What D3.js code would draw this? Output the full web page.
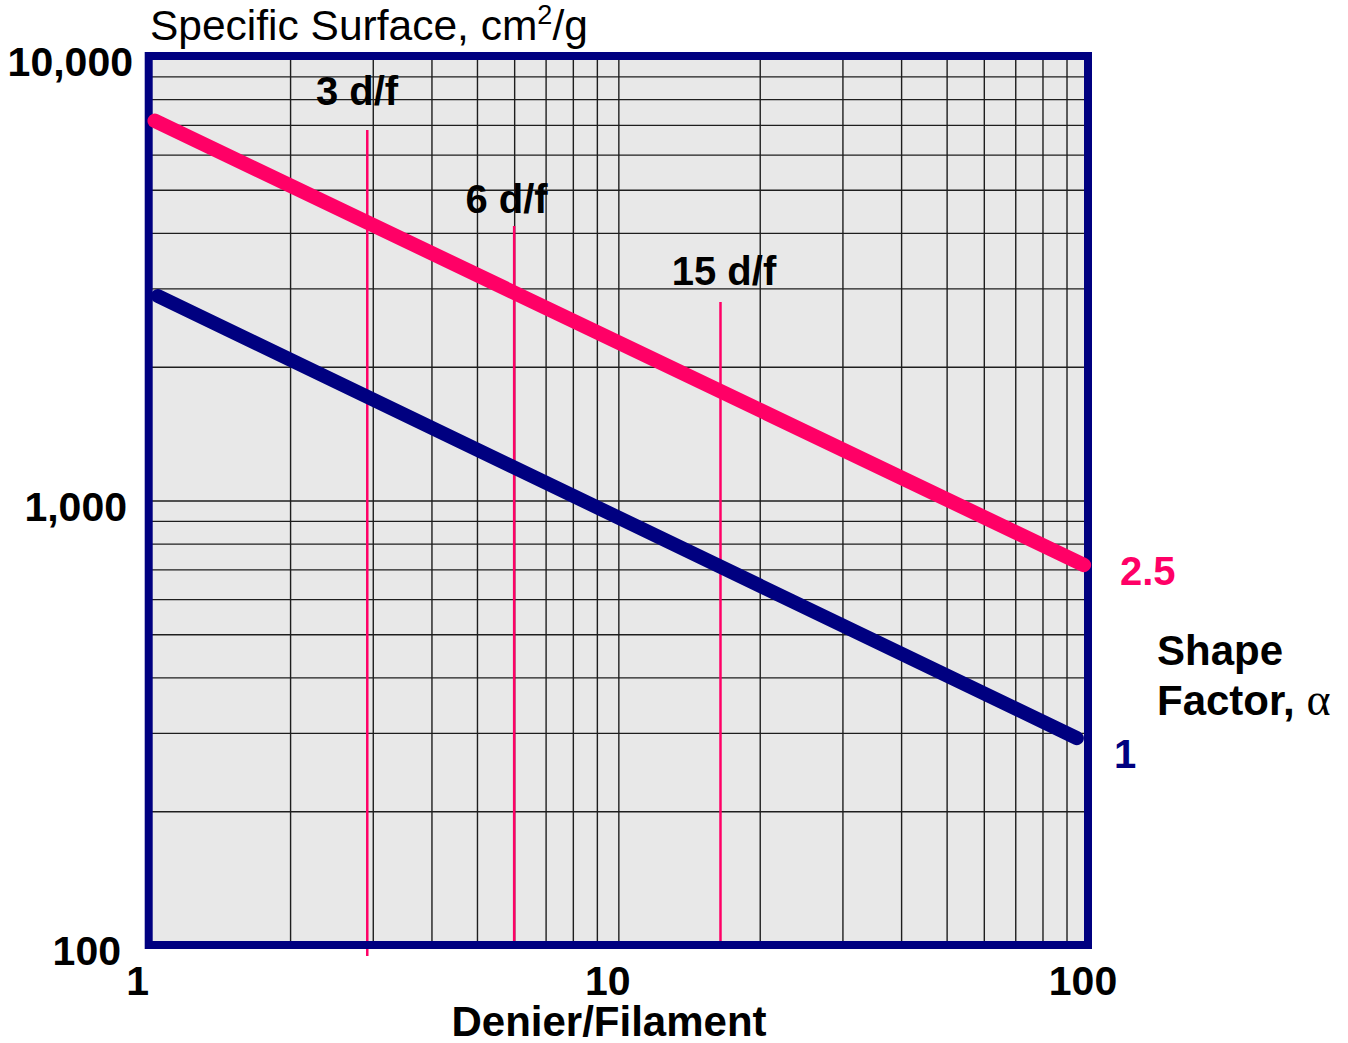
<!DOCTYPE html>
<html>
<head>
<meta charset="utf-8">
<script src="https://cdn.jsdelivr.net/npm/d3@7"></script>
<style>
  html, body { margin: 0; padding: 0; background: #fff; }
  svg text { font-family: Arial, "Liberation Sans", sans-serif; }
</style>
</head>
<body>
<svg id="chart" width="1348" height="1043"></svg>
<script>
// values (log-log chart)
var deniers      = [1.03, 98];
var alpha25      = [7150, 716];
var deniersBlue  = [1.046, 94.7];
var alpha1       = [2884, 292];

var markerDenier = [2.92, 6, 16.5];
var markerTop    = [6817, 4145, 2797];
var markerBottom = [94.5, 101.6, 100];
var markerLabels = ["3 d/f", "6 d/f", "15 d/f"];

var xGrid = [2, 3, 4, 5, 6, 7, 8, 9, 10, 20, 30, 40, 50, 60, 70, 80, 90];
var yGrid = [200, 300, 400, 500, 600, 700, 800, 900, 1000,
             2000, 3000, 4000, 5000, 6000, 7000, 8000, 9000];
var xTickVals   = [1, 10, 100];
var xTickLabels = ["1", "10", "100"];
var yTickVals   = [100, 1000, 10000];
var yTickLabels = ["100", "1,000", "10,000"];

(function() {
var pink = "#ff0066", navy = "#000080";

var svg = d3.select("#chart");
var pLeft = 148.7, pRight = 1088, pTop = 56, pBottom = 945;

var x = d3.scaleLog().domain([1, 100]).range([pLeft, pRight]);
var y = d3.scaleLog().domain([100, 10000]).range([pBottom, pTop]);

// plot background
svg.append("rect")
  .attr("x", pLeft).attr("y", pTop)
  .attr("width", pRight - pLeft).attr("height", pBottom - pTop)
  .attr("fill", "#e8e8e8");

// grid via axes
var gx = svg.append("g")
  .attr("transform", "translate(0," + pBottom + ")")
  .call(d3.axisBottom(x).tickValues(xGrid).tickSize(-(pBottom - pTop) - 3).tickFormat(""));
var gy = svg.append("g")
  .attr("transform", "translate(" + pLeft + ",0)")
  .call(d3.axisLeft(y).tickValues(yGrid).tickSize(-(pRight - pLeft)).tickFormat(""));
[gx, gy].forEach(function(g) {
  g.select(".domain").remove();
  g.selectAll(".tick line").attr("stroke", "#1e1e1e").attr("stroke-width", 1.4);
});

// marker lines for 3, 6, 15 d/f
markerDenier.forEach(function(d, i) {
  svg.append("line")
    .attr("x1", x(d)).attr("x2", x(d))
    .attr("y1", y(markerTop[i])).attr("y2", y(markerBottom[i]))
    .attr("stroke", pink).attr("stroke-width", 2.5);
});

// border
svg.append("rect")
  .attr("x", pLeft).attr("y", pTop)
  .attr("width", pRight - pLeft).attr("height", pBottom - pTop)
  .attr("fill", "none").attr("stroke", navy).attr("stroke-width", 8);

var line = d3.line().x(function(d) { return x(d[0]); }).y(function(d) { return y(d[1]); });

svg.append("path")
  .datum(deniersBlue.map(function(d, i) { return [d, alpha1[i]]; }))
  .attr("d", line).attr("fill", "none")
  .attr("stroke", navy).attr("stroke-width", 14).attr("stroke-linecap", "round");

svg.append("path")
  .datum(deniers.map(function(d, i) { return [d, alpha25[i]]; }))
  .attr("d", line).attr("fill", "none")
  .attr("stroke", pink).attr("stroke-width", 14.5).attr("stroke-linecap", "round");

// marker labels
var markerLabelY = [105, 213, 285];
var markerLabelX = [357, 506.5, 724];
markerLabels.forEach(function(t, i) {
  svg.append("text")
    .attr("x", markerLabelX[i]).attr("y", markerLabelY[i])
    .attr("text-anchor", "middle")
    .attr("font-size", 40).attr("font-weight", "bold")
    .text(t);
});

// y tick labels
var yLabelRight = [121, 127, 133];
yTickVals.forEach(function(v, i) {
  svg.append("text")
    .attr("x", yLabelRight[i]).attr("y", y(v) + 6)
    .attr("text-anchor", "end").attr("dominant-baseline", "central")
    .attr("font-size", 41).attr("font-weight", "bold")
    .text(yTickLabels[i]);
});

// x tick labels
var xLabelShift = [-11, -10.5, -5];
xTickVals.forEach(function(v, i) {
  svg.append("text")
    .attr("x", x(v) + xLabelShift[i]).attr("y", 995)
    .attr("text-anchor", "middle")
    .attr("font-size", 41).attr("font-weight", "bold")
    .text(xTickLabels[i]);
});

// axis titles
svg.append("text")
  .attr("x", 609).attr("y", 1036)
  .attr("text-anchor", "middle")
  .attr("font-size", 42).attr("font-weight", "bold")
  .text("Denier/Filament");

var yt = svg.append("text")
  .attr("x", 150).attr("y", 40)
  .attr("font-size", 42.5);
yt.append("tspan").text("Specific Surface, cm");
yt.append("tspan").attr("font-size", 27).attr("dy", -16).text("2");
yt.append("tspan").attr("dy", 16).text("/g");

// series labels
svg.append("text")
  .attr("x", 1120).attr("y", 585)
  .attr("font-size", 40).attr("font-weight", "bold").attr("fill", pink)
  .text("2.5");
svg.append("text")
  .attr("x", 1114).attr("y", 768)
  .attr("font-size", 40).attr("font-weight", "bold").attr("fill", navy)
  .text("1");

svg.append("text")
  .attr("x", 1157).attr("y", 665)
  .attr("font-size", 42).attr("font-weight", "bold")
  .text("Shape");
var sf = svg.append("text")
  .attr("x", 1157).attr("y", 715)
  .attr("font-size", 42).attr("font-weight", "bold");
sf.append("tspan").text("Factor, ");
sf.append("tspan")
  .attr("font-weight", "normal")
  .attr("font-size", 46)
  .attr("font-family", "'Times New Roman', 'Liberation Serif', serif")
  .text("\u03b1");
})();
</script>
</body>
</html>
